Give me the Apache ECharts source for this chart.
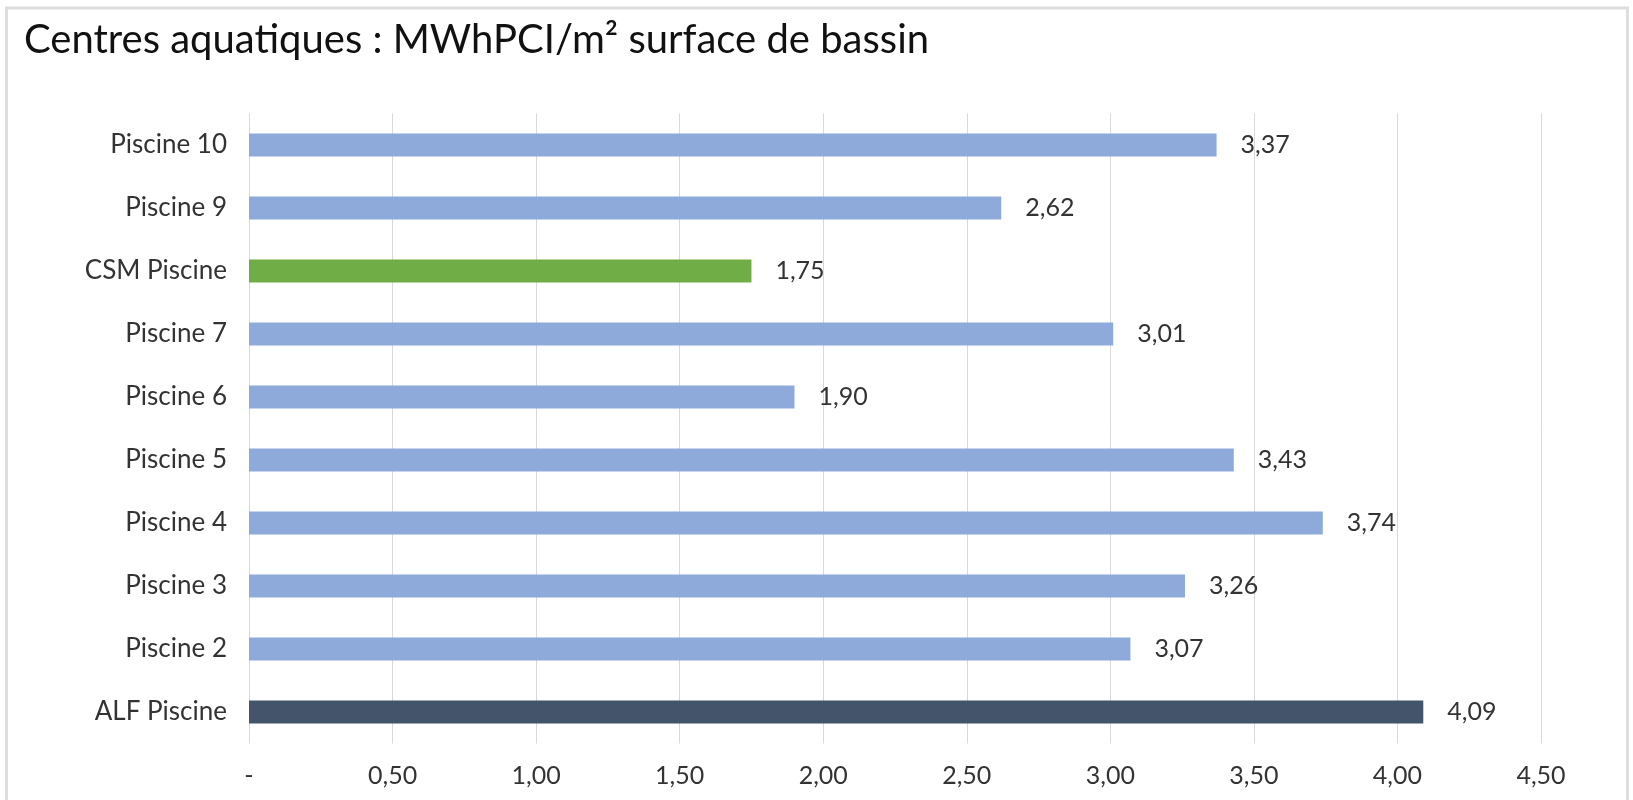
<!DOCTYPE html>
<html>
<head>
<meta charset="utf-8">
<script src="https://cdn.jsdelivr.net/npm/echarts@6/dist/echarts.min.js"></script>
<style>
html,body{margin:0;padding:0;background:#fff;}
#chart{width:1633px;height:800px;}
</style>
</head>
<body>
<div id="chart"></div>
<script>
const titleText = 'Centres aquatiques : MWhPCI/m² surface de bassin';
const categories = ['Piscine 10','Piscine 9','CSM Piscine','Piscine 7','Piscine 6','Piscine 5','Piscine 4','Piscine 3','Piscine 2','ALF Piscine'];
const values = [3.37, 2.62, 1.75, 3.01, 1.90, 3.43, 3.74, 3.26, 3.07, 4.09];
const xTicks = [0, 0.5, 1, 1.5, 2, 2.5, 3, 3.5, 4, 4.5];

const colorBlue = '#8eaadb';
const colorGreen = '#70ad47';
const colorDark = '#44546a';
const highlight = {'CSM Piscine': colorGreen, 'ALF Piscine': colorDark};

const FONT = 'Lato';
const chart = echarts.init(document.getElementById('chart'), null, {renderer:'canvas'});
const fmt = v => v === 0 ? '-' : v.toFixed(2).replace('.', ',');

chart.setOption({
  animation: false,
  backgroundColor: '#fff',
  title: {
    text: titleText,
    left: 19, top: 15,
    textStyle: {fontFamily: FONT, fontSize: 40, fontWeight: 'normal', color: '#111'}
  },
  graphic: [{
    type: 'rect', silent: true, z: -1,
    shape: {x: 6.5, y: 8, width: 1621, height: 900},
    style: {fill: 'none', stroke: '#dedede', lineWidth: 3}
  }],
  grid: {left: 249, right: 92, top: 113.5, bottom: 56.5, containLabel: false},
  xAxis: {
    type: 'value',
    min: xTicks[0], max: xTicks[xTicks.length - 1], interval: 0.5,
    axisLine: {show: false}, axisTick: {show: false},
    splitLine: {show: true, lineStyle: {color: '#d9d9d9', width: 1}},
    axisLabel: {formatter: fmt, fontFamily: FONT, fontSize: 25, color: '#333', margin: 20}
  },
  yAxis: {
    type: 'category', inverse: true, data: categories,
    axisLine: {show: false}, axisTick: {show: false},
    axisLabel: {fontFamily: FONT, fontSize: 26, color: '#333', margin: 22}
  },
  series: [{
    type: 'bar',
    barWidth: 23,
    data: values.map((v, i) => ({value: v, itemStyle: {color: highlight[categories[i]] || colorBlue}})),
    label: {
      show: true, position: 'right', distance: 24,
      formatter: p => fmt(p.value),
      fontFamily: FONT, fontSize: 25, color: '#333'
    }
  }]
});
</script>
</body>
</html>
